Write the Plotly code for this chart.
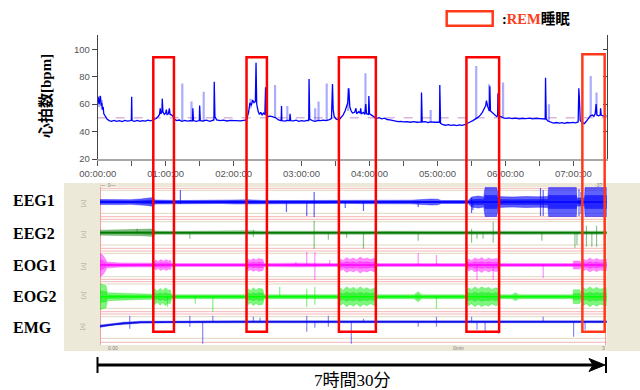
import plotly.graph_objects as go

W, H = 640, 390

# ---------------- data ----------------
# heart rate (hours, bpm)
hr_time = [0.00, 0.01, 0.02, 0.03, 0.04, 0.05, 0.06, 0.07, 0.08, 0.09,
           0.10, 0.12, 0.14, 0.17, 0.20, 0.24, 0.28, 0.32, 0.36, 0.40,
           0.44, 0.48, 0.495, 0.50, 0.505, 0.54, 0.58, 0.62, 0.66, 0.70,
           0.74, 0.78, 0.82, 0.86, 0.89, 0.91, 0.92, 0.93, 0.945, 0.95,
           0.96, 0.98, 1.00, 1.01, 1.02, 1.04, 1.055, 1.065, 1.09, 1.11,
           1.13, 1.16, 1.20, 1.24, 1.28, 1.32, 1.36, 1.395, 1.40, 1.41,
           1.45, 1.495, 1.50, 1.51, 1.55, 1.60, 1.65, 1.70, 1.71, 1.715,
           1.725, 1.75, 1.80, 1.85, 1.90, 1.95, 2.00, 2.05, 2.10, 2.15,
           2.19, 2.22, 2.24, 2.26, 2.28, 2.30, 2.32, 2.33, 2.34, 2.36,
           2.38, 2.40, 2.42, 2.44, 2.46, 2.47, 2.48, 2.50, 2.54, 2.58,
           2.62, 2.66, 2.70, 2.705, 2.71, 2.75, 2.79, 2.825, 2.83, 2.84,
           2.88, 2.92, 2.96, 3.00, 3.04, 3.08, 3.105, 3.11, 3.12, 3.16,
           3.20, 3.24, 3.28, 3.32, 3.36, 3.40, 3.44, 3.455, 3.465, 3.48,
           3.51, 3.55, 3.58, 3.61, 3.64, 3.66, 3.68, 3.695, 3.71, 3.73,
           3.75, 3.78, 3.80, 3.81, 3.84, 3.86, 3.87, 3.88, 3.91, 3.93,
           3.945, 3.955, 3.985, 3.99, 4.00, 4.03, 4.06, 4.10, 4.14, 4.18,
           4.22, 4.26, 4.30, 4.34, 4.38, 4.42, 4.46, 4.50, 4.55, 4.60,
           4.65, 4.70, 4.76, 4.765, 4.775, 4.82, 4.86, 4.90, 4.95, 5.00,
           5.03, 5.034, 5.045, 5.08, 5.12, 5.16, 5.20, 5.24, 5.28, 5.32,
           5.36, 5.40, 5.44, 5.48, 5.52, 5.56, 5.60, 5.63, 5.66, 5.69,
           5.71, 5.72, 5.74, 5.765, 5.77, 5.78, 5.81, 5.84, 5.87, 5.885,
           5.89, 5.90, 5.93, 5.97, 6.00, 6.05, 6.10, 6.15, 6.20, 6.25,
           6.30, 6.35, 6.40, 6.45, 6.50, 6.55, 6.585, 6.59, 6.60, 6.63,
           6.67, 6.71, 6.75, 6.79, 6.83, 6.87, 6.91, 6.95, 6.99, 7.03,
           7.07, 7.08, 7.09, 7.10, 7.13, 7.16, 7.19, 7.22, 7.25, 7.28,
           7.30, 7.32, 7.335, 7.345, 7.37, 7.395, 7.40, 7.41, 7.44, 7.47,
           7.49]
hr_bpm = [61, 65, 60, 63, 66, 59, 61, 56, 58, 53,
          52, 51, 49, 48, 47.5, 48.2, 47.4, 48, 47.3, 48.1,
          47.6, 48, 48.3, 65.4, 48, 47.5, 48.2, 47.4, 48, 47.6,
          48.3, 47.8, 48.5, 49.5, 51, 52.5, 57, 53, 54, 64,
          54.5, 52.5, 53.5, 56, 52.5, 53, 57, 52.5, 52, 51,
          49, 48, 48.4, 47.5, 48.2, 47.6, 48, 47.8, 57, 48,
          47.5, 48, 59, 48, 47.7, 48.3, 47.5, 48, 48.5, 76.4,
          51, 48.5, 48, 48.3, 47.7, 48.1, 47.9, 48.2, 47.8, 48.2,
          48.5, 54, 61, 59, 63, 61, 62, 90.2, 60, 55,
          52.5, 54, 52, 53.5, 52.5, 72.3, 52, 51, 51.3, 50.7,
          50, 48.5, 48, 58.7, 48, 47.6, 48.2, 48, 53, 48,
          47.8, 48.3, 47.5, 48, 47.6, 48.2, 48, 78.4, 49, 48,
          47.5, 48.2, 48, 48.4, 48, 48.6, 49.5, 74.7, 56, 51,
          49, 48.5, 50, 52, 55, 58, 61, 71.5, 58, 55,
          53.5, 54, 57, 53, 54.5, 53.5, 57, 53, 54, 52.5,
          60, 53, 52.5, 66, 53, 52, 51, 49.5, 50.2, 49.3,
          49.8, 48.8, 48.5, 48, 47.6, 47.2, 47.4, 47, 47.3, 46.8,
          47.2, 46.8, 47, 68.4, 47, 47.2, 46.6, 47, 46.8, 46.5,
          46.8, 74, 46, 45, 44.6, 45.1, 44.5, 44.9, 44.4, 44.8,
          44.5, 45, 45.8, 47, 48, 49, 50.5, 52, 54, 57,
          59, 62.5, 58, 55, 73, 55, 53.5, 52, 51, 51.5,
          68, 50.5, 51, 50, 49.6, 50, 49.4, 49.8, 49.3, 49.7,
          49.4, 49.8, 49.3, 49.6, 49.4, 49.5, 49.2, 79.3, 49, 47.5,
          46.6, 46.2, 46.6, 46.1, 46.5, 46, 46.6, 46.3, 46.7, 46.4,
          47, 71.5, 62, 48, 46.5, 45.8, 47.5, 50, 51.5, 52,
          51, 53, 60, 52, 51.5, 52, 57, 52, 51.3, 51.8,
          51]
# lighter (min/max envelope) spikes: time, base, peak
hr_spike_time = [0.02, 0.06, 1.245, 1.38, 1.56, 2.25, 2.61, 2.79, 3.20, 3.25,
                 3.37, 3.685, 3.94, 4.90, 5.57, 5.76, 5.965, 6.64, 7.255, 7.34]
hr_spike_base = [58, 56, 48, 48, 48, 57, 50, 48, 48, 48,
                 48, 55, 53, 47, 49, 55, 50, 47, 51, 52]
hr_spike_peak = [66, 63, 75, 62, 69, 64, 74, 58.7, 57, 62,
                 75, 71.5, 82.5, 55.7, 87.8, 74.5, 75.7, 60, 80.5, 68.4]
hr_mean = 50

hr_tick_hours = [0, 0.5, 1, 1.5, 2, 2.5, 3, 3.5, 4, 4.5, 5, 5.5, 6, 6.5, 7]
hr_tick_text = ["00:00:00", "", "01:00:00", "", "02:00:00", "", "03:00:00", "",
                "04:00:00", "", "05:00:00", "", "06:00:00", "", "07:00:00"]
hr_y_ticks = [20, 40, 60, 80, 100]

# REM periods (hours)
rem_start = [0.818, 2.19, 3.549, 5.426, 7.132]
rem_end = [1.122, 2.49, 4.093, 5.907, 7.46]

channels = ["EEG1", "EEG2", "EOG1", "EOG2", "EMG"]

# signal envelopes (hours, half amplitude in screen px)
eeg1_t = [0, 0.15, 0.3, 0.45, 0.6, 0.7, 0.79, 0.81, 1.0, 1.2,
          1.5, 1.8, 2.0, 2.2, 2.4, 2.8, 3.2, 3.6, 4.0, 4.3,
          4.6, 4.9, 5.0, 5.05, 5.3, 5.45, 5.5, 5.6, 5.68, 5.70,
          5.87, 5.9, 6.1, 6.3, 6.5, 6.63, 6.64, 7.05, 7.06, 7.17,
          7.18, 7.5]
eeg1_amp = [2.5, 2.2, 2.6, 2.3, 3.0, 3.4, 4.5, 2.0, 1.6, 1.5,
            1.7, 1.5, 2.0, 2.2, 1.6, 1.5, 1.6, 1.4, 1.7, 2.0,
            1.8, 3.0, 2.8, 1.5, 1.6, 1.5, 5.0, 6.0, 5.0, 14.5,
            14.5, 5.5, 5.0, 5.5, 5.2, 5.5, 14.5, 14.5, 4.0, 4.0,
            14.5, 14.5]
eeg1_spk_t = [1.19, 2.76, 3.06, 3.17, 3.63, 3.90, 4.71, 5.50, 5.52, 6.52, 6.56, 7.09, 7.12]
eeg1_spk_up = [12, 0, 0, 10, 0, 0, 0, 4, 0, 14, 12, 13, 10]
eeg1_spk_dn = [2, 10, 14, 15, 6, 9, 5, 11, 8, 14, 14, 14, 12]

eeg2_t = [0, 0.2, 0.4, 0.6, 0.75, 0.79, 0.82, 1.2, 1.6, 2.0, 2.2, 2.4,
          2.8, 3.4, 4.0, 4.3, 4.5, 4.8, 5.4, 6.0, 6.6, 7.0, 7.5]
eeg2_amp = [2.5, 2.8, 2.6, 3.0, 3.6, 4.0, 1.6, 1.4, 1.7, 1.8, 2.0, 1.5,
            1.5, 1.4, 1.5, 2.0, 1.6, 1.5, 1.5, 1.6, 1.4, 1.5, 1.5]
eeg2_spk_t = [0.55, 1.33, 2.27, 3.17, 3.38, 3.65, 3.90, 4.71, 5.50, 5.58,
              5.67, 5.82, 6.54, 7.03, 7.06, 7.20, 7.28, 7.35]
eeg2_spk_up = [4, 0, 3, 12, 0, 0, 0, 0, 4, 0, 0, 11, 0, 0, 0, 7, 0, 7]
eeg2_spk_dn = [0, 6, 4, 16, 7, 5, 16, 8, 10, 6, 6, 10, 8, 15, 12, 14, 14, 14]

eog1_t = [0, 0.04, 0.08, 0.1, 0.3, 0.6, 0.8, 0.82, 0.86, 0.90,
          0.94, 0.98, 1.02, 1.04, 1.06, 1.5, 2.0, 2.17, 2.19, 2.23,
          2.27, 2.31, 2.35, 2.41, 2.43, 2.9, 3.53, 3.55, 3.60, 3.65,
          3.70, 3.75, 3.80, 3.85, 3.90, 3.95, 4.00, 4.07, 4.10, 5.43,
          5.45, 5.50, 5.55, 5.60, 5.65, 5.70, 5.75, 5.80, 5.86, 5.9,
          5.92, 7.0, 7.01, 7.10, 7.13, 7.15, 7.20, 7.25, 7.30, 7.35,
          7.40, 7.5]
eog1_amp = [12, 10, 6, 3, 2, 2, 2, 5, 3.5, 5.5,
            4, 5.5, 4, 5, 1.5, 1.5, 1.5, 1.5, 6, 4.5,
            6.5, 5, 6.5, 5.5, 1.5, 2, 1.5, 6, 4.5, 7.5,
            5.5, 7, 5, 8, 6, 7, 5.5, 7, 1.5, 1.5,
            6, 4.5, 7, 5.5, 7.5, 5, 7, 5.5, 6.5, 6,
            1.5, 1.5, 4, 4, 2, 6, 4.5, 7, 5, 6.5,
            5, 6]
eog1_spk_t = [2.9, 3.06, 3.18, 3.40, 4.71, 4.98, 5.58, 5.82, 6.56]
eog1_spk_up = [3, 13, 13, 5, 12, 10, 0, 0, 0]
eog1_spk_dn = [0, 0, 15, 0, 0, 0, 15, 15, 13]

eog2_t = [0, 0.05, 0.09, 0.11, 0.3, 0.5, 0.79, 0.81, 0.85, 0.89,
          0.93, 0.97, 1.01, 1.04, 1.06, 1.6, 2.17, 2.19, 2.23, 2.27,
          2.31, 2.35, 2.41, 2.43, 3.0, 3.53, 3.55, 3.60, 3.65, 3.70,
          3.75, 3.80, 3.85, 3.90, 3.95, 4.00, 4.07, 4.10, 4.65, 4.71,
          4.76, 5.43, 5.45, 5.50, 5.55, 5.60, 5.65, 5.70, 5.75, 5.80,
          5.86, 5.9, 5.92, 6.1, 6.15, 6.2, 7.0, 7.01, 7.10, 7.13,
          7.15, 7.20, 7.25, 7.30, 7.35, 7.40, 7.5]
eog2_amp = [13, 12, 11, 4, 3.5, 3, 2.5, 8, 5.5, 8.5,
            6, 9, 6.5, 7, 2, 2, 2, 8, 6, 9,
            6.5, 8.5, 7.5, 2, 2, 2, 9, 6.5, 10, 7.5,
            9.5, 7, 10, 7.5, 9, 7, 9, 2, 2, 5,
            2, 2, 9, 7, 10, 7.5, 10, 8, 9.5, 7,
            9, 8, 2, 2, 4, 2, 2, 7, 7, 3,
            9, 7, 10, 7.5, 9.5, 7.5, 9]
eog2_spk_t = [1.0, 1.41, 1.67, 2.66, 3.06, 3.18, 4.98]
eog2_spk_up = [0, 0, 0, 10, 8, 10, 0]
eog2_spk_dn = [10, 7, 15, 0, 10, 8, 12]

emg_t = [0, 0.1, 0.2, 0.35, 0.6, 1.0, 2.0, 3.0, 4.0, 5.0, 6.0, 7.0, 7.5]
emg_drift = [4.5, 3.5, 2.5, 1.5, 0.5, 0.2, 0, 0, -0.3, 0, 0, 0, 0]
emg_amp = [1.2, 1, 1, 1, 1, 1, 1, 1, 1, 1, 1, 1, 1]
emg_spk_t = [0.44, 1.33, 1.52, 1.67, 2.27, 2.37, 3.06, 3.18, 3.38, 3.72,
             3.90, 4.71, 4.98, 5.50, 5.58, 5.70, 5.90, 6.56, 7.01, 7.18]
emg_spk_up = [6, 6, 0, 6, 5, 4, 6, 0, 6, 0, 3, 0, 5, 5, 0, 0, 0, 5, 0, 0]
emg_spk_dn = [7, 5, 22, 0, 0, 0, 10, 6, 5, 22, 0, 5, 5, 0, 8, 10, 12, 0, 15, 8]

# ---------------- layout helpers ----------------
def fx(p):
    return p / W

def fy(p):
    return 1 - p / H

lane_center = [202, 232.7, 265, 296.7, 321.7]
ch_colors = ["#0000FF", "#007A00", "#FF00FF", "#00FF00", "#1010E8"]
ch_fade = ["rgba(0,0,255,0.62)", "rgba(0,122,0,0.45)", "rgba(255,0,255,0.45)",
           "rgba(0,235,0,0.5)", "rgba(16,16,232,0.5)"]

fig = go.Figure()

# ---- heart rate ----
fig.add_trace(go.Scatter(x=[0, 7.49], y=[hr_mean, hr_mean], mode="lines",
                         line=dict(color="#C890C8", width=1, dash="dash"),
                         xaxis="x", yaxis="y", hoverinfo="skip"))
sx, sy = [], []
for t, b, p in zip(hr_spike_time, hr_spike_base, hr_spike_peak):
    sx += [t, t, None]
    sy += [b, p, None]
fig.add_trace(go.Scatter(x=sx, y=sy, mode="lines",
                         line=dict(color="rgba(90,90,255,0.5)", width=2.2),
                         xaxis="x", yaxis="y", hoverinfo="skip"))
fig.add_trace(go.Scatter(x=hr_time, y=hr_bpm, mode="lines",
                         line=dict(color="#0000FF", width=1.3),
                         xaxis="x", yaxis="y"))
fig.add_trace(go.Scatter(x=[0], y=[50], mode="markers", marker=dict(opacity=0),
                         xaxis="x", yaxis="y3", hoverinfo="skip"))

# ---- polysomnography channels ----
env = [(eeg1_t, eeg1_amp, None), (eeg2_t, eeg2_amp, None), (eog1_t, eog1_amp, None),
       (eog2_t, eog2_amp, None), (emg_t, emg_amp, emg_drift)]
spk = [(eeg1_spk_t, eeg1_spk_up, eeg1_spk_dn), (eeg2_spk_t, eeg2_spk_up, eeg2_spk_dn),
       (eog1_spk_t, eog1_spk_up, eog1_spk_dn), (eog2_spk_t, eog2_spk_up, eog2_spk_dn),
       (emg_spk_t, emg_spk_up, emg_spk_dn)]

for i, ((ts, amps, drift), (st, su, sd)) in enumerate(zip(env, spk)):
    c = lane_center[i]
    d = drift if drift is not None else [0] * len(ts)
    mid = [c + v for v in d]
    fig.add_trace(go.Scatter(
        x=list(ts) + list(ts[::-1]),
        y=[m - a for m, a in zip(mid, amps)] + [m + a for m, a in zip(mid[::-1], amps[::-1])],
        fill="toself", fillcolor=ch_fade[i], mode="lines",
        line=dict(color=ch_fade[i], width=0.6), xaxis="x2", yaxis="y2", hoverinfo="skip"))
    fig.add_trace(go.Scatter(
        x=list(ts) + list(ts[::-1]),
        y=[m - 0.45 * a for m, a in zip(mid, amps)] + [m + 0.45 * a for m, a in zip(mid[::-1], amps[::-1])],
        fill="toself", fillcolor=ch_fade[i], mode="lines",
        line=dict(color=ch_fade[i], width=0.5), xaxis="x2", yaxis="y2", hoverinfo="skip"))
    fig.add_trace(go.Scatter(x=ts, y=mid, mode="lines",
                             line=dict(color=ch_colors[i], width=1.4),
                             xaxis="x2", yaxis="y2", hoverinfo="skip"))
    kx, ky = [], []
    for t, u, dn in zip(st, su, sd):
        kx += [t, t, None]
        ky += [c - u, c + dn, None]
    fig.add_trace(go.Scatter(x=kx, y=ky, mode="lines",
                             line=dict(color=ch_fade[i], width=1.2),
                             xaxis="x2", yaxis="y2", hoverinfo="skip"))

# ---------------- shapes ----------------
shapes = []
shapes.append(dict(type="rect", xref="paper", yref="paper", x0=fx(64), x1=1.0,
                   y0=fy(351), y1=fy(183), fillcolor="#ECE9D8", line=dict(width=0), layer="below"))
shapes.append(dict(type="rect", xref="paper", yref="paper", x0=fx(100), x1=fx(606.7),
                   y0=fy(345), y1=fy(187), fillcolor="#FFFFFF", line=dict(width=0), layer="below"))
pink_lines = [188.3, 216.7, 219.3, 248.3, 251, 279.3, 281.7, 311.7, 314, 342.3]
beige_lines = [190.3, 213.3, 221.7, 245, 253.3, 276.7, 284, 308.3, 316.7, 338.3]
for yv in pink_lines:
    shapes.append(dict(type="line", xref="paper", yref="y2", x0=fx(100), x1=fx(606.7),
                       y0=yv, y1=yv, line=dict(color="#F4B4B4", width=1), layer="below"))
for yv in beige_lines:
    shapes.append(dict(type="line", xref="paper", yref="y2", x0=fx(100), x1=fx(606.7),
                       y0=yv, y1=yv, line=dict(color="#DCD8BE", width=1), layer="below"))
for xv in [100.5, 605.5]:
    shapes.append(dict(type="line", xref="paper", yref="paper", x0=fx(xv), x1=fx(xv),
                       y0=fy(345), y1=fy(187), line=dict(color="#F0A0A0", width=1), layer="below"))

for k, (a, b) in enumerate(zip(rem_start, rem_end)):
    col = "#FF3A1A" if k == 4 else "#FF0000"
    top = 54.3 if k == 4 else 57.3
    shapes.append(dict(type="rect", xref="x", yref="paper", x0=a, x1=b,
                       y0=fy(331.7), y1=fy(top), line=dict(color=col, width=2.5),
                       fillcolor="rgba(0,0,0,0)", layer="above"))
shapes.append(dict(type="rect", xref="paper", yref="paper", x0=fx(446.7), x1=fx(492.7),
                   y0=fy(25.7), y1=fy(11.3), line=dict(color="#FF3A1A", width=2.5)))
shapes.append(dict(type="line", xref="paper", yref="paper", x0=fx(97), x1=fx(600),
                   y0=fy(365), y1=fy(365), line=dict(color="black", width=3)))
for xv in [97.5, 606]:
    shapes.append(dict(type="line", xref="paper", yref="paper", x0=fx(xv), x1=fx(xv),
                       y0=fy(373), y1=fy(357), line=dict(color="black", width=2)))
ah = [(589, 358.5), (605, 365), (589, 371.5), (593, 365)]
path = "M " + " L ".join(f"{fx(a):.5f},{fy(b):.5f}" for a, b in ah) + " Z"
shapes.append(dict(type="path", xref="paper", yref="paper", path=path,
                   fillcolor="black", line=dict(color="black", width=1)))

# ---------------- annotations ----------------
ann = []
SERIF_CJK = "Liberation Serif, Noto Sans CJK JP"
ann.append(dict(text="<b>心拍数[bpm]</b>", x=fx(45.5), y=fy(96.5), xref="paper", yref="paper",
                textangle=-90, showarrow=False, xanchor="center", yanchor="middle",
                font=dict(family=SERIF_CJK, size=15, color="black")))
ann.append(dict(text="<b>:</b><b><span style='color:#FF3A1A'>REM</span></b><b>睡眠</b>",
                x=fx(500), y=fy(19), xref="paper", yref="paper", showarrow=False,
                xanchor="left", yanchor="middle",
                font=dict(family=SERIF_CJK, size=14.5, color="black")))
for name, yc in zip(channels, [201, 233.5, 265, 296, 327]):
    ann.append(dict(text=f"<b>{name}</b>", x=fx(11), y=fy(yc), xref="paper", yref="paper",
                    showarrow=False, xanchor="left", yanchor="middle",
                    font=dict(family="Liberation Serif", size=16, color="black")))
for yc in [203.3, 234.3, 266, 295, 326.7]:
    ann.append(dict(text="[V]", x=fx(83.5), y=fy(yc), xref="paper", yref="paper",
                    showarrow=False, textangle=90, xanchor="center", yanchor="middle",
                    font=dict(family="Liberation Sans", size=6, color="#A8A8A0")))
for txt, xv, yv in [("0.00", 113, 347.5), ("0min", 458, 347.5), ("3", 603.5, 347.5),
                    ("—  0—", 108, 185.3), ("-3?", 598, 185.3)]:
    ann.append(dict(text=txt, x=fx(xv), y=fy(yv), xref="paper", yref="paper",
                    showarrow=False, xanchor="center", yanchor="middle",
                    font=dict(family="Liberation Sans", size=5, color="#808080")))
ann.append(dict(text="7時間30分", x=fx(352), y=fy(380.5), xref="paper", yref="paper",
                showarrow=False, xanchor="center", yanchor="middle",
                font=dict(family=SERIF_CJK, size=17, color="black")))

tickfont = dict(family="Liberation Sans, Arial", size=9.5, color="#555555")
fig.update_layout(
    template="none",
    width=W, height=H, autosize=False,
    margin=dict(l=0, r=0, t=0, b=0, pad=0),
    paper_bgcolor="white", plot_bgcolor="rgba(0,0,0,0)",
    showlegend=False,
    xaxis=dict(domain=[fx(97.7), fx(606.7)], range=[0, 7.49], anchor="y", automargin=False,
               tickmode="array", tickvals=hr_tick_hours, ticktext=hr_tick_text,
               ticks="outside", ticklen=5, tickwidth=1, tickcolor="#555555",
               showline=True, linecolor="#A8A8A8", linewidth=2,
               showgrid=False, zeroline=False, tickfont=tickfont),
    yaxis=dict(domain=[fy(159), fy(35)], range=[20, 110.4], anchor="x", automargin=False,
               tickmode="array", tickvals=hr_y_ticks,
               ticks="outside", ticklen=5, tickwidth=1, tickcolor="#444444",
               showline=True, linecolor="#444444", linewidth=1,
               showgrid=False, zeroline=False, tickfont=tickfont),
    yaxis3=dict(overlaying="y", side="right", anchor="x", range=[20, 110.4], automargin=False,
                tickmode="array", tickvals=[40, 60, 80, 100], ticks="inside",
                ticklen=4, tickcolor="#444444", showline=True, linecolor="#444444",
                linewidth=1, showticklabels=False, showgrid=False, zeroline=False),
    xaxis2=dict(domain=[fx(100), fx(606.7)], range=[0, 7.5], anchor="y2", visible=False,
                automargin=False),
    yaxis2=dict(domain=[fy(345), fy(187)], range=[345, 187], anchor="x2", visible=False,
                automargin=False),
    shapes=shapes, annotations=ann,
)

fig.write_html("out.html", config={"displayModeBar": False},
               post_script="document.body.style.margin='0px';document.body.style.overflow='hidden';")
